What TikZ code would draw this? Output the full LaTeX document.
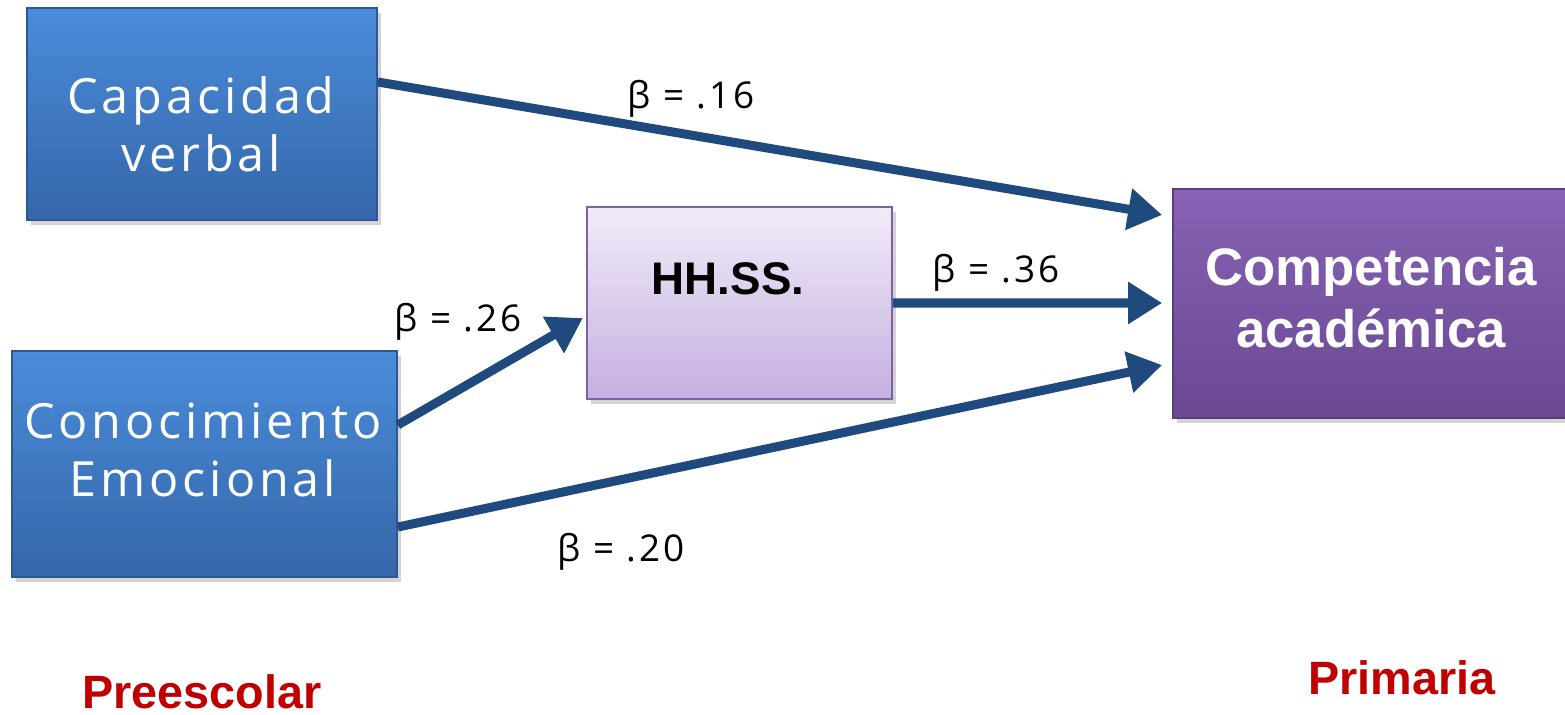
\documentclass[tikz,border=0pt]{standalone}
\usepackage{fontspec}
\setmainfont{Open Sans}
\newfontfamily\negrita{Liberation Sans}[BoldFont={Liberation Sans Bold}]
\usetikzlibrary{arrows.meta,positioning,shadows}
\definecolor{Azul}{HTML}{4A8CDA}
\definecolor{AzulOsc}{HTML}{3566A9}
\definecolor{Flecha}{HTML}{1F4A7D}
\definecolor{Lila}{HTML}{F1EBF8}
\definecolor{LilaOsc}{HTML}{C5B0E0}
\definecolor{LilaBorde}{HTML}{7F5FA8}
\definecolor{Morado}{HTML}{8762B5}
\definecolor{MoradoOsc}{HTML}{6A4892}
\definecolor{Rojo}{HTML}{C00000}

\tikzset{
  caja/.style={rectangle,inner sep=0pt,
    drop shadow={opacity=0.35,shadow xshift=0.04cm,shadow yshift=-0.05cm}},
  cajaazul/.style={caja,top color=Azul,bottom color=AzulOsc,draw=AzulOsc!85!black},
  textocaja/.style={align=center,text=white,
    font=\fontsize{13.8}{16.5}\selectfont\addfontfeature{LetterSpace=8}},
  flecha/.style={line width=0.09cm,draw=Flecha,-{Triangle[length=0.34cm,width=0.4cm]}},
  beta/.style={anchor=base,font=\fontsize{10.5}{12}\selectfont\addfontfeature{LetterSpace=8}},
  etapa/.style={anchor=base,text=Rojo,font=\negrita\bfseries\fontsize{13.3}{15}\selectfont}
}

\begin{document}
\begin{tikzpicture}[x=0.01cm,y=-0.01cm]
  \useasboundingbox (0,0) rectangle (1565,715);

  % cajas
  \node[cajaazul,minimum width=3.5cm,minimum height=2.12cm] (cap) at (202,114) {};
  \node[cajaazul,minimum width=3.85cm,minimum height=2.26cm] (cono) at (204.5,464) {};
  \node[caja,top color=Lila,bottom color=LilaOsc,draw=LilaBorde,line width=0.6pt,
    minimum width=3.05cm,minimum height=1.92cm] (hhss) at (739.5,303) {};
  \node[caja,top color=Morado,bottom color=MoradoOsc,draw=MoradoOsc!85!black,
    minimum width=3.96cm,minimum height=2.29cm] (comp) at (1371,303.5) {};

  \node[textocaja] (capT) at (201,124) {Capacidad\\verbal};
  \node[textocaja] (conoT) at (203,450) {Conocimiento\\Emocional};
  \node[font=\negrita\bfseries\fontsize{13}{15}\selectfont] (hhssT) at (728,279) {HH.SS.};
  \node[align=center,text=white,font=\negrita\bfseries\fontsize{15}{17.6}\selectfont]
    (compT) at (1371,298) {Competencia\\académica};

  % flechas
  \draw[flecha] ([yshift=0.32cm]cap.east) -- ([xshift=-0.1cm,yshift=0.885cm]comp.west);
  \draw[flecha] ([yshift=0.39cm]cono.east) -- ([xshift=-0.03cm,yshift=-0.15cm]hhss.west);
  \draw[flecha] (hhss.east) -- ([xshift=-0.1cm,yshift=0.005cm]comp.west);
  \draw[flecha] ([yshift=-0.63cm]cono.east) -- ([xshift=-0.1cm,yshift=-0.615cm]comp.west);

  \node[beta] (b16) at (691,108) {β = .16};
  \node[beta] (b26) at (458,331) {β = .26};
  \node[beta] (b36) at (996,282) {β = .36};
  \node[beta] (b20) at (621,561) {β = .20};

  \node[etapa] (pre) at (202,708) {Preescolar};
  \node[etapa] (pri) at (1402,694) {Primaria};
\end{tikzpicture}
\end{document}
